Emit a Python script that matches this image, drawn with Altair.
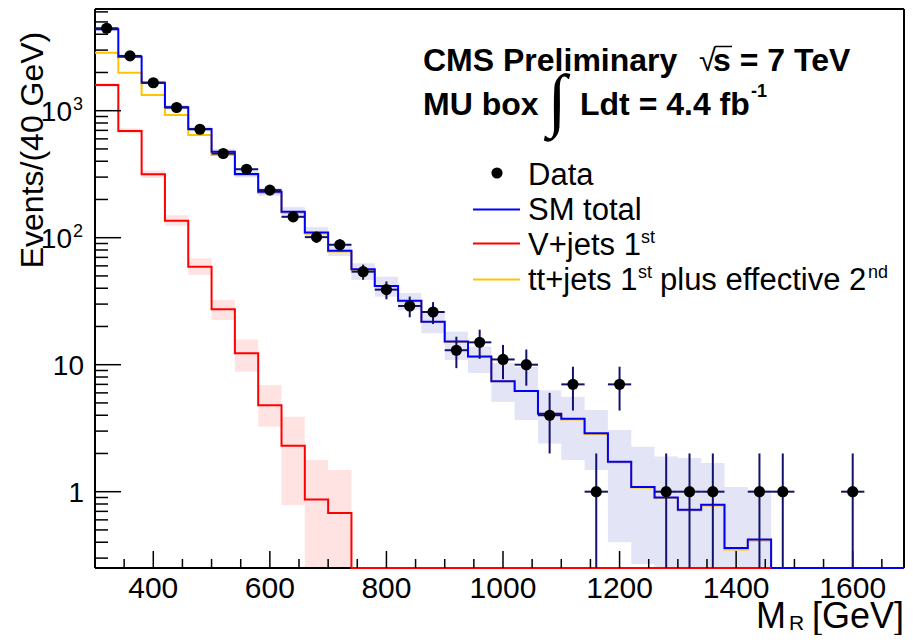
import altair as alt
import pandas as pd
import numpy as np

# ---------------- data ----------------
bin_lo = list(range(300, 1460, 40))          # 29 bins of 40 GeV, 300..1460
sm_total = [4375, 2662, 1662, 1064, 718, 475, 317, 230, 160, 110,
            79, 56.4, 41.7, 31.9, 21.8, 15.2, 11.6, 7.4, 6.2, 4.1,
            3.75, 2.88, 1.72, 1.09, 0.90, 0.72, 0.79, 0.36, 0.42]
sm_band_lo = [4250, 2580, 1610, 1020, 685, 450, 298, 214, 147, 100,
              71.8, 46.5, 34.3, 27, 17.7, 10.9, 8.6, 5.1, 3.67, 2.4,
              1.78, 1.48, 0.40, 0.27, 0, 0, 0, 0, 0]
sm_band_hi = [4500, 2750, 1720, 1110, 752, 500, 337, 247, 174, 121,
              87.3, 63, 49.3, 36.7, 26.1, 18.2, 13.9, 10.3, 9.6, 6.3,
              5.6, 4.4, 3.06, 2.26, 1.89, 1.84, 1.68, 1.09, 1.03]

tt_jets = [2864, 1991, 1330, 925, 644, 448, 312, 225, 157, 108,
           78, 56, 41.5, 31.8, 21.7, 15.1, 11.5, 7.4, 6.2, 4.1,
           3.7, 2.85, 1.7, 1.08, 0.89, 0.71, 0.78, 0.35, 0.41]

v_lo = list(range(300, 740, 40))             # 11 bins 300..740
v_jets = [1593, 692, 316, 136, 59, 27.3, 12.3, 4.8, 2.3, 0.87, 0.68]
v_band_lo = [1540, 660, 295, 124, 50.9, 22.5, 8.8, 3.25, 0.785, 0, 0]
v_band_hi = [1650, 725, 338, 150, 68.9, 32.3, 15.8, 6.92, 3.9, 1.78, 1.48]

data_x = list(range(320, 1700, 40))          # bin centres
data_n = [4460, 2700, 1660, 1060, 714, 460, 346, 237, 146, 101,
          88, 54, 39, 29, 26, 13, 15, 11, 10, 4,
          7, 1, 7, 0, 1, 1, 1, 0, 1, 1,
          0, 0, 1, 0, 0]

x_major = [400, 600, 800, 1000, 1200, 1400, 1600]
y_major = [1, 10, 100, 1000]
y_base = ["1", "10", "10", "10"]
y_exp = ["", "", "2", "3"]

BW = 40
YMIN, YMAX = 0.2507, 6321
XMIN, XMAX = 300, 1688   # axis runs to 1700; the page edge crops the last few GeV
W, H = 809, 559
OX, OY = 95, 9          # page position of the plot origin (for annotations)
FONT = "Liberation Sans"

x_minor = [v for v in range(300, 1701, 50) if v not in x_major and XMIN < v < XMAX]
y_minor = [m * 10.0 ** k for k in range(-1, 4) for m in range(2, 10)]
y_minor = [v for v in y_minor if YMIN < v < YMAX]

xs = alt.Scale(domain=[XMIN, XMAX], nice=False, zero=False)
ys = alt.Scale(type="log", domain=[YMIN, YMAX], nice=False)


def X(field):
    return alt.X(field, type="quantitative", scale=xs, axis=None)


def Y(field):
    return alt.Y(field, type="quantitative", scale=ys, axis=None)


def fl(v):
    return max(v, YMIN)


# ---------------- frames ----------------
sm_df = pd.DataFrame({"x": bin_lo + [1460, XMAX],
                      "y": sm_total + [YMIN, YMIN]})
tt_df = pd.DataFrame({"x": bin_lo + [1460], "y": tt_jets + [YMIN]})
v_df = pd.DataFrame({"x": v_lo + [740, 1460], "y": v_jets + [YMIN, YMIN]})

sm_band = pd.DataFrame({"x": bin_lo, "x2": [b + BW for b in bin_lo],
                        "lo": [fl(v) for v in sm_band_lo], "hi": sm_band_hi})
v_band = pd.DataFrame({"x": v_lo, "x2": [b + BW for b in v_lo],
                       "lo": [fl(v) for v in v_band_lo], "hi": v_band_hi})

dd = pd.DataFrame({"x": data_x, "n": data_n})
dd = dd[dd.n > 0].copy()
dd["err"] = np.sqrt(dd.n)
dd["lo"] = [fl(a - b) for a, b in zip(dd.n, dd.err)]
dd["hi"] = dd.n + dd.err
dd["xl"] = dd.x - BW / 2
dd["xh"] = dd.x + BW / 2

# ---------------- layers ----------------
band_v = alt.Chart(v_band).mark_rect(color="#ff5a5a", opacity=0.17).encode(
    x=X("x"), x2="x2", y=Y("lo"), y2="hi")
band_sm = alt.Chart(sm_band).mark_rect(color="#4a4ac8", opacity=0.15).encode(
    x=X("x"), x2="x2", y=Y("lo"), y2="hi")

line_tt = alt.Chart(tt_df).mark_line(interpolate="step-after", color="#ffc400",
                                     strokeWidth=2).encode(x=X("x"), y=Y("y"))
line_sm = alt.Chart(sm_df).mark_line(interpolate="step-after", color="#0000ff",
                                     strokeWidth=2).encode(x=X("x"), y=Y("y"))
line_v = alt.Chart(v_df).mark_line(interpolate="step-after", color="#ff0000",
                                   strokeWidth=2).encode(x=X("x"), y=Y("y"))

ERRC = "#12126a"
err_v = alt.Chart(dd).mark_rule(color=ERRC, strokeWidth=2).encode(
    x=X("x"), y=Y("lo"), y2="hi")
err_h = alt.Chart(dd).mark_rule(color=ERRC, strokeWidth=2).encode(
    x=X("xl"), x2="xh", y=Y("n"))
pts = alt.Chart(dd).mark_circle(color="black", size=125, opacity=1).encode(
    x=X("x"), y=Y("n"))

# ticks (inside the frame, ROOT style)
ymaj_df = pd.DataFrame({"v": y_major, "base": y_base, "exp": y_exp})
ymin_df = pd.DataFrame({"v": y_minor})
xmaj_df = pd.DataFrame({"v": x_major})
xmin_df = pd.DataFrame({"v": x_minor})

tk_y_maj = alt.Chart(ymaj_df).mark_rule(color="black", strokeWidth=1.5).encode(
    y=Y("v"), x=alt.value(0), x2=alt.value(26))
tk_y_min = alt.Chart(ymin_df).mark_rule(color="black", strokeWidth=1.5).encode(
    y=Y("v"), x=alt.value(0), x2=alt.value(13))
tk_x_maj = alt.Chart(xmaj_df).mark_rule(color="black", strokeWidth=1.5).encode(
    x=X("v"), y=alt.value(H), y2=alt.value(H - 17))
tk_x_min = alt.Chart(xmin_df).mark_rule(color="black", strokeWidth=1.5).encode(
    x=X("v"), y=alt.value(H), y2=alt.value(H - 9))

# frame
one = pd.DataFrame({"a": [0]})
frame = [
    alt.Chart(one).mark_rule(color="black", strokeWidth=2).encode(
        x=alt.value(0), x2=alt.value(W), y=alt.value(0)),
    alt.Chart(one).mark_rule(color="black", strokeWidth=2).encode(
        x=alt.value(0), x2=alt.value(W), y=alt.value(H)),
    alt.Chart(one).mark_rule(color="black", strokeWidth=2).encode(
        x=alt.value(0), y=alt.value(0), y2=alt.value(H)),
    alt.Chart(one).mark_rule(color="black", strokeWidth=2).encode(
        x=alt.value(W), y=alt.value(0), y2=alt.value(H)),
]

# tick labels
xlab = alt.Chart(xmaj_df).mark_text(
    font=FONT, fontSize=30, align="center", baseline="alphabetic", color="black").encode(
    x=X("v"), y=alt.value(H + 30), text=alt.Text("v:Q", format="d"))
ylab_small = alt.Chart(ymaj_df).transform_filter("datum.exp == ''").mark_text(
    font=FONT, fontSize=28, align="right", baseline="middle", dy=2, color="black").encode(
    y=Y("v"), x=alt.value(-11), text="base:N")
ylab_big = alt.Chart(ymaj_df).transform_filter("datum.exp != ''").mark_text(
    font=FONT, fontSize=28, align="right", baseline="middle", dy=2, color="black").encode(
    y=Y("v"), x=alt.value(-23), text="base:N")
ylab_exp = alt.Chart(ymaj_df).transform_filter("datum.exp != ''").mark_text(
    font=FONT, fontSize=18, align="left", baseline="middle", dy=-6, color="black").encode(
    y=Y("v"), x=alt.value(-22), text="exp:N")


def txt(s, px, py, size=31, weight="normal", align="left", angle=0, font=FONT,
        baseline="alphabetic"):
    kw = dict(text=s, fontSize=size, fontWeight=weight, align=align, font=font,
              baseline=baseline, color="black")
    if angle:
        kw["angle"] = angle
    return alt.Chart(one).mark_text(**kw).encode(x=alt.value(px - OX), y=alt.value(py - OY))


def hline(x1, x2, py, color, width=2):
    return alt.Chart(one).mark_rule(color=color, strokeWidth=width).encode(
        x=alt.value(x1 - OX), x2=alt.value(x2 - OX), y=alt.value(py - OY))


LX = 528
texts = [
    txt("CMS Preliminary", 423, 71, 32, "bold"),
    txt("\u221a", 699, 71, 31, "normal"),
    hline(715, 732, 46.5, "black", 1.5),
    txt("s = 7 TeV", 713, 71, 32, "bold"),
    txt("MU box", 423, 115, 32, "bold"),
    txt("\u222b", 557, 123, 70, 200, align="center", font="DejaVu Sans"),
    txt("Ldt = 4.4 fb", 580, 115, 32, "bold"),
    txt("-1", 751, 97, 18, "bold"),
    # legend
    txt("Data", LX, 185, 31),
    txt("SM total", LX, 220, 31),
    txt("V+jets 1", LX, 255, 31),
    txt("st", 641, 243, 18),
    txt("tt+jets 1", LX, 290, 31),
    txt("st", 638, 278, 18),
    txt("plus effective 2", 660, 290, 31),
    txt("nd", 868, 278, 18),
    hline(473, 520, 209.5, "#0000ff"),
    hline(473, 520, 243.5, "#ff0000"),
    hline(473, 520, 279.5, "#ffc400"),
    alt.Chart(one).mark_circle(color="black", size=125, opacity=1).encode(
        x=alt.value(497 - OX), y=alt.value(173 - OY)),
    # axis titles
    txt("Events/(40 GeV)", 43, 150, 32, angle=270, align="center"),
    txt("M", 756, 628, 36),
    txt("R", 789, 630, 21),
    txt("[GeV]", 812, 628, 36),
]

chart = alt.layer(
    band_v, band_sm, *frame,
    line_tt, line_sm, line_v,
    tk_y_min, tk_y_maj, tk_x_min, tk_x_maj,
    err_v, err_h, pts,
    xlab, ylab_small, ylab_big, ylab_exp,
    *texts,
).properties(
    width=W, height=H,
    autosize=alt.AutoSizeParams(type="none"),
    padding={"left": 87, "top": 1, "right": 1, "bottom": 67},
).configure_view(
    strokeWidth=0
).configure(
    background="white"
)

chart.save("out.html", embed_options={"renderer": "svg", "actions": False})
